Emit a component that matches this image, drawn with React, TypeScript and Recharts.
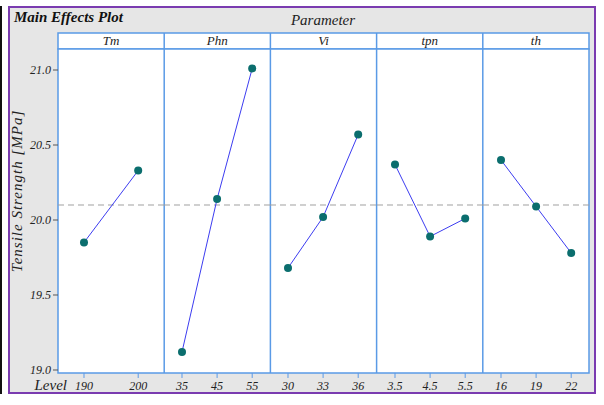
import React from 'react';
import { LineChart, Line, XAxis, YAxis, ReferenceLine } from 'recharts';

// factor levels and mean tensile strength
const tmLevels = ['190', '200'];
const tmMeans = [19.85, 20.33];
const phnLevels = ['35', '45', '55'];
const phnMeans = [19.12, 20.14, 21.01];
const viLevels = ['30', '33', '36'];
const viMeans = [19.68, 20.02, 20.57];
const tpnLevels = ['3.5', '4.5', '5.5'];
const tpnMeans = [20.37, 19.89, 20.01];
const thLevels = ['16', '19', '22'];
const thMeans = [20.4, 20.09, 19.78];

const grandMean = 20.1;
const yTicks = [19.0, 19.5, 20.0, 20.5, 21.0];

const panels = [
  { name: 'Tm', levels: tmLevels, means: tmMeans },
  { name: 'Phn', levels: phnLevels, means: phnMeans },
  { name: 'Vi', levels: viLevels, means: viMeans },
  { name: 'tpn', levels: tpnLevels, means: tpnMeans },
  { name: 'th', levels: thLevels, means: thMeans },
];

const blue = '#5a9ae6';
const font = '"Times New Roman", "Liberation Serif", serif';

const plotLeft = 58;
const plotTop = 49;
const plotBottom = 373;
const plotRight = 589;
const panelW = (plotRight - plotLeft) / panels.length;
const yAxisW = 50;
const xAxisH = 30;

const serif = { fontFamily: font, fontStyle: 'italic' as const };
const tickStyle = { ...serif, fontSize: 12, fill: '#222' };

export default function App() {
  const plotH = plotBottom - plotTop;
  return (
    <div style={{ position: 'absolute', left: 0, top: 0, width: 604, height: 405, background: '#fff', fontFamily: font }}>
      {/* frame */}
      <div style={{ position: 'absolute', left: 0, top: 6, width: 2, height: 388, background: '#111' }} />
      <div style={{ position: 'absolute', left: 8, top: 6, width: 584, height: 384, background: '#e6e6e6', border: '2px solid #7a3bb0' }} />
      <svg width={604} height={405} style={{ position: 'absolute', left: 0, top: 0 }}>
        <text x={14} y={22} style={{ ...serif, fontWeight: 'bold', fontSize: 15 }} fill="#111">Main Effects Plot</text>
        <text x={323} y={25} textAnchor="middle" style={{ ...serif, fontSize: 15 }} fill="#222">Parameter</text>
        <rect x={plotLeft} y={33} width={plotRight - plotLeft} height={16} fill="#fff" stroke={blue} strokeWidth={1.5} />
        <rect x={plotLeft} y={plotTop} width={plotRight - plotLeft} height={plotH} fill="#fff" stroke={blue} strokeWidth={1.5} />
        {panels.map((p, i) => (
          <g key={p.name}>
            {i > 0 && <line x1={plotLeft + i * panelW} x2={plotLeft + i * panelW} y1={33} y2={plotBottom} stroke={blue} strokeWidth={1.5} />}
            <text x={plotLeft + (i + 0.5) * panelW} y={45} textAnchor="middle" style={{ ...serif, fontSize: 13 }} fill="#222">{p.name}</text>
          </g>
        ))}
        <text x={67} y={390} textAnchor="end" style={{ ...serif, fontSize: 15 }} fill="#222">Level</text>
        <text transform="translate(22,191) rotate(-90)" textAnchor="middle" style={{ ...serif, fontSize: 15, letterSpacing: 1 }} fill="#222">Tensile Strength [MPa]</text>
      </svg>
      {panels.map((p, i) => {
        const data = p.levels.map((l, k) => ({ level: l, mean: p.means[k] }));
        const pad = p.levels.length === 2 ? 26 : 18;
        const first = i === 0;
        return (
          <div key={p.name} style={{ position: 'absolute', left: first ? plotLeft - yAxisW : plotLeft + i * panelW, top: plotTop }}>
            <LineChart width={panelW + (first ? yAxisW : 0)} height={plotH + xAxisH} data={data} margin={{ top: 0, right: 0, bottom: 0, left: 0 }}>
              <XAxis dataKey="level" type="category" padding={{ left: pad, right: pad }} height={xAxisH} axisLine={false} tickLine={{ stroke: blue }} tickSize={5} tickMargin={4} tick={tickStyle} interval={0} />
              <YAxis type="number" domain={[18.98, 21.14]} ticks={yTicks} hide={!first} width={first ? yAxisW : 0} axisLine={false} tickLine={{ stroke: '#555' }} tickSize={5} tickMargin={2} tick={tickStyle} tickFormatter={(v: number) => v.toFixed(1)} allowDataOverflow />
              <ReferenceLine y={grandMean} stroke="#a0a0a0" strokeDasharray="6 4" />
              <Line type="linear" dataKey="mean" stroke="#3b3bf0" strokeWidth={1} dot={{ r: 4, fill: '#0b6e6e', stroke: 'none' }} isAnimationActive={false} />
            </LineChart>
          </div>
        );
      })}
    </div>
  );
}
